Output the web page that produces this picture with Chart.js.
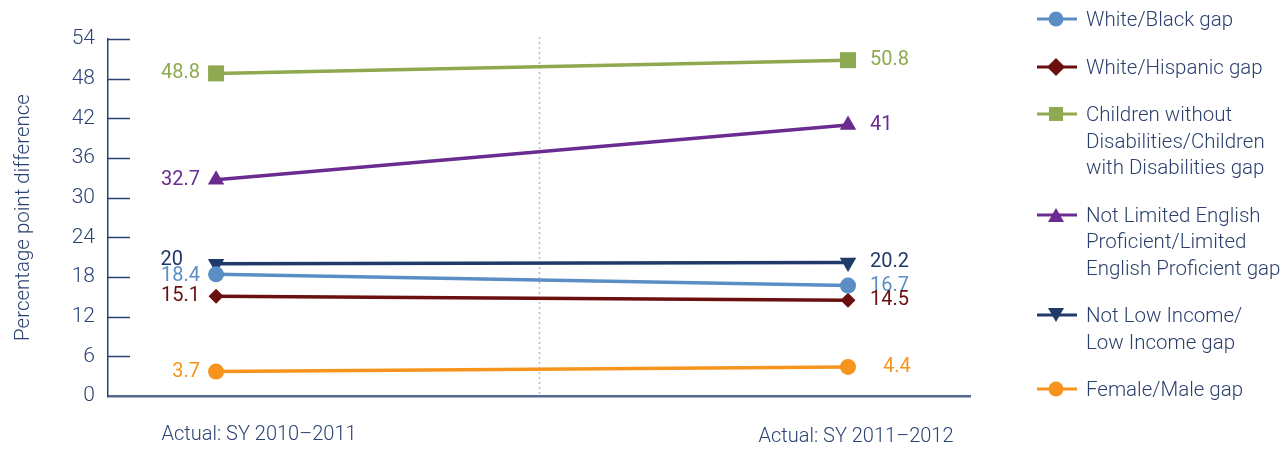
<!DOCTYPE html>
<html><head><meta charset="utf-8">
<script src="https://cdn.jsdelivr.net/npm/chart.js@4.4.1/dist/chart.umd.min.js"></script>
<style>
html,body{margin:0;padding:0;background:#fff;}
#wrap{position:relative;width:1287px;height:451px;overflow:hidden;}
#c{position:absolute;left:0;top:0;}
#legend{position:absolute;left:1037px;top:6px;font-family:Roboto,'Liberation Sans',sans-serif;font-weight:300;font-size:20.5px;line-height:26.5px;color:#2b3f6c;}
.item{display:flex;align-items:flex-start;margin-bottom:21px;white-space:nowrap;}
.item svg{flex:0 0 49px;width:49px;height:26.5px;}
</style>
</head><body>
<div id="wrap"><canvas id="c" width="1287" height="451"></canvas><div id="legend"></div></div>
<script>
// ---- data ----
const categories = ['Actual: SY 2010\u20132011', 'Actual: SY 2011\u20132012'];
const seriesNames = [
  ['White/Black gap'],
  ['White/Hispanic gap'],
  ['Children without', 'Disabilities/Children', 'with Disabilities gap'],
  ['Not Limited English', 'Proficient/Limited', 'English Proficient gap'],
  ['Not Low Income/', 'Low Income gap'],
  ['Female/Male gap']
];
const whiteBlack = [18.4, 16.7];
const whiteHispanic = [15.1, 14.5];
const disabilities = [48.8, 50.8];
const lep = [32.7, 41];
const lowIncome = [20, 20.2];
const femaleMale = [3.7, 4.4];
const yTicks = [0, 6, 12, 18, 24, 30, 36, 42, 48, 54];

// ---- styles ----
const seriesValues = [whiteBlack, whiteHispanic, disabilities, lep, lowIncome, femaleMale];
const colors = ['#5b8ec5', '#6b0f0f', '#8ea94f', '#6a2c91', '#1f3a68', '#f7941d'];
const shapes = ['circle', 'rectRot', 'rect', 'triangle', 'triangle', 'circle'];
const radii = [8, 7.5, 11.3, 9.5, 9.5, 8];
const rotations = [0, 0, 0, 0, 180, 0];
const labelNudgeY = [[2, 0], [0, 0], [0, 0], [0, 0], [-4, 0], [0, 0]];
const labelNudgeX = [[0, 0], [0, 0], [0, 0], [0, 0], [-17, 0], [0, 13]];
const textColor = '#2b4372';
const uiFont = 'Roboto, "Liberation Sans", sans-serif';

const datasets = seriesValues.map((vals, k) => ({
  label: seriesNames[k].join(' '),
  data: vals.map((v, i) => ({x: i, y: v})),
  borderColor: colors[k],
  backgroundColor: colors[k],
  borderWidth: 3.5,
  pointStyle: shapes[k],
  pointRadius: radii[k],
  pointHoverRadius: radii[k],
  pointRotation: rotations[k],
  pointBorderWidth: 0,
  tension: 0,
  clip: false
}));

const valueLabels = {
  id: 'valueLabels',
  afterDatasetsDraw(chart) {
    const ctx = chart.ctx;
    ctx.save();
    ctx.font = '400 20px ' + uiFont;
    ctx.textBaseline = 'middle';
    chart.data.datasets.forEach((ds, di) => {
      const meta = chart.getDatasetMeta(di);
      meta.data.forEach((pt, i) => {
        const v = seriesValues[di][i];
        ctx.fillStyle = colors[di];
        const dy = labelNudgeY[di][i], dx = labelNudgeX[di][i];
        if (i === 0) { ctx.textAlign = 'right'; ctx.fillText(String(v), pt.x - 16 + dx, pt.y + dy); }
        else { ctx.textAlign = 'left'; ctx.fillText(String(v), pt.x + 22 + dx, pt.y + dy); }
      });
    });
    ctx.restore();
  }
};

const axisDecor = {
  id: 'axisDecor',
  afterDraw(chart) {
    const ctx = chart.ctx;
    const ys = chart.scales.y, xs = chart.scales.x;
    const area = chart.chartArea;
    ctx.save();
    ctx.strokeStyle = textColor;
    ctx.lineWidth = 1.5;
    ys.ticks.forEach(t => {
      if (t.value === 0) return;
      const py = Math.round(ys.getPixelForValue(t.value)) + 0.5;
      ctx.beginPath(); ctx.moveTo(area.left, py); ctx.lineTo(area.left + 22, py); ctx.stroke();
    });
    ctx.fillStyle = textColor;
    ctx.font = '300 20px ' + uiFont;
    ctx.textAlign = 'center';
    ctx.textBaseline = 'middle';
    const xOff = [43, 8];
    const yPos = [435, 437];
    categories.forEach((c, i) => {
      ctx.fillText(c, xs.getPixelForValue(i) + xOff[i], yPos[i]);
    });
    ctx.restore();
  }
};

const dottedMid = {
  id: 'dottedMid',
  beforeDatasetsDraw(chart) {
    const xs = chart.scales.x, a = chart.chartArea, ctx = chart.ctx;
    const px = Math.round(xs.getPixelForValue((xs.min + xs.max) / 2)) + 0.5;
    ctx.save();
    ctx.strokeStyle = '#b9bcc8';
    ctx.lineWidth = 1.5;
    ctx.setLineDash([2, 3]);
    ctx.beginPath(); ctx.moveTo(px, a.top - 2); ctx.lineTo(px, a.bottom - 2); ctx.stroke();
    ctx.restore();
  }
};

new Chart(document.getElementById('c'), {
  type: 'line',
  data: {datasets},
  options: {
    responsive: false,
    animation: false,
    events: [],
    layout: {padding: {left: 0, top: 39, right: 1287 - 970, bottom: 451 - 396}},
    plugins: {legend: {display: false}, tooltip: {enabled: false}},
    scales: {
      x: {
        type: 'linear',
        min: -0.171,
        max: 1.193,
        afterFit(s) { s.height = 0; },
        ticks: {display: false},
        grid: {display: false, drawTicks: false},
        border: {display: true, color: '#56698e', width: 2.5}
      },
      y: {
        type: 'linear',
        min: 0,
        max: 54,
        afterFit(s) { s.width = 108; },
        afterBuildTicks(s) { s.ticks = yTicks.map(v => ({value: v})); },
        ticks: {color: textColor, font: {family: uiFont, size: 21, weight: 300}, padding: 13},
        grid: {display: false, drawTicks: false},
        border: {display: true, color: textColor, width: 1.5},
        title: {display: true, text: 'Percentage point difference', color: textColor, padding: {top: 12, bottom: 0}, font: {family: uiFont, size: 20.5, weight: 300}}
      }
    }
  },
  plugins: [valueLabels, axisDecor, dottedMid]
});

// ---- legend (HTML) ----
const leg = document.getElementById('legend');
function markerSvg(k) {
  const c = colors[k];
  let m = '';
  const cx = 19, cy = 13;
  if (shapes[k] === 'circle') m = `<circle cx="${cx}" cy="${cy}" r="7.5" fill="${c}"/>`;
  else if (shapes[k] === 'rect') m = `<rect x="${cx-7}" y="${cy-7}" width="14" height="14" fill="${c}"/>`;
  else if (shapes[k] === 'rectRot') m = `<polygon points="${cx},${cy-9} ${cx+9},${cy} ${cx},${cy+9} ${cx-9},${cy}" fill="${c}"/>`;
  else if (rotations[k] === 180) m = `<polygon points="${cx-8},${cy-7} ${cx+8},${cy-7} ${cx},${cy+7}" fill="${c}"/>`;
  else m = `<polygon points="${cx-8},${cy+7} ${cx+8},${cy+7} ${cx},${cy-7}" fill="${c}"/>`;
  return `<svg viewBox="0 0 49 26.5"><line x1="0" y1="${cy}" x2="40" y2="${cy}" stroke="${c}" stroke-width="3"/>${m}</svg>`;
}
seriesNames.forEach((lines, k) => {
  const d = document.createElement('div');
  d.className = 'item';
  d.innerHTML = markerSvg(k) + '<div>' + lines.join('<br>') + '</div>';
  leg.appendChild(d);
});
</script>
</body></html>
